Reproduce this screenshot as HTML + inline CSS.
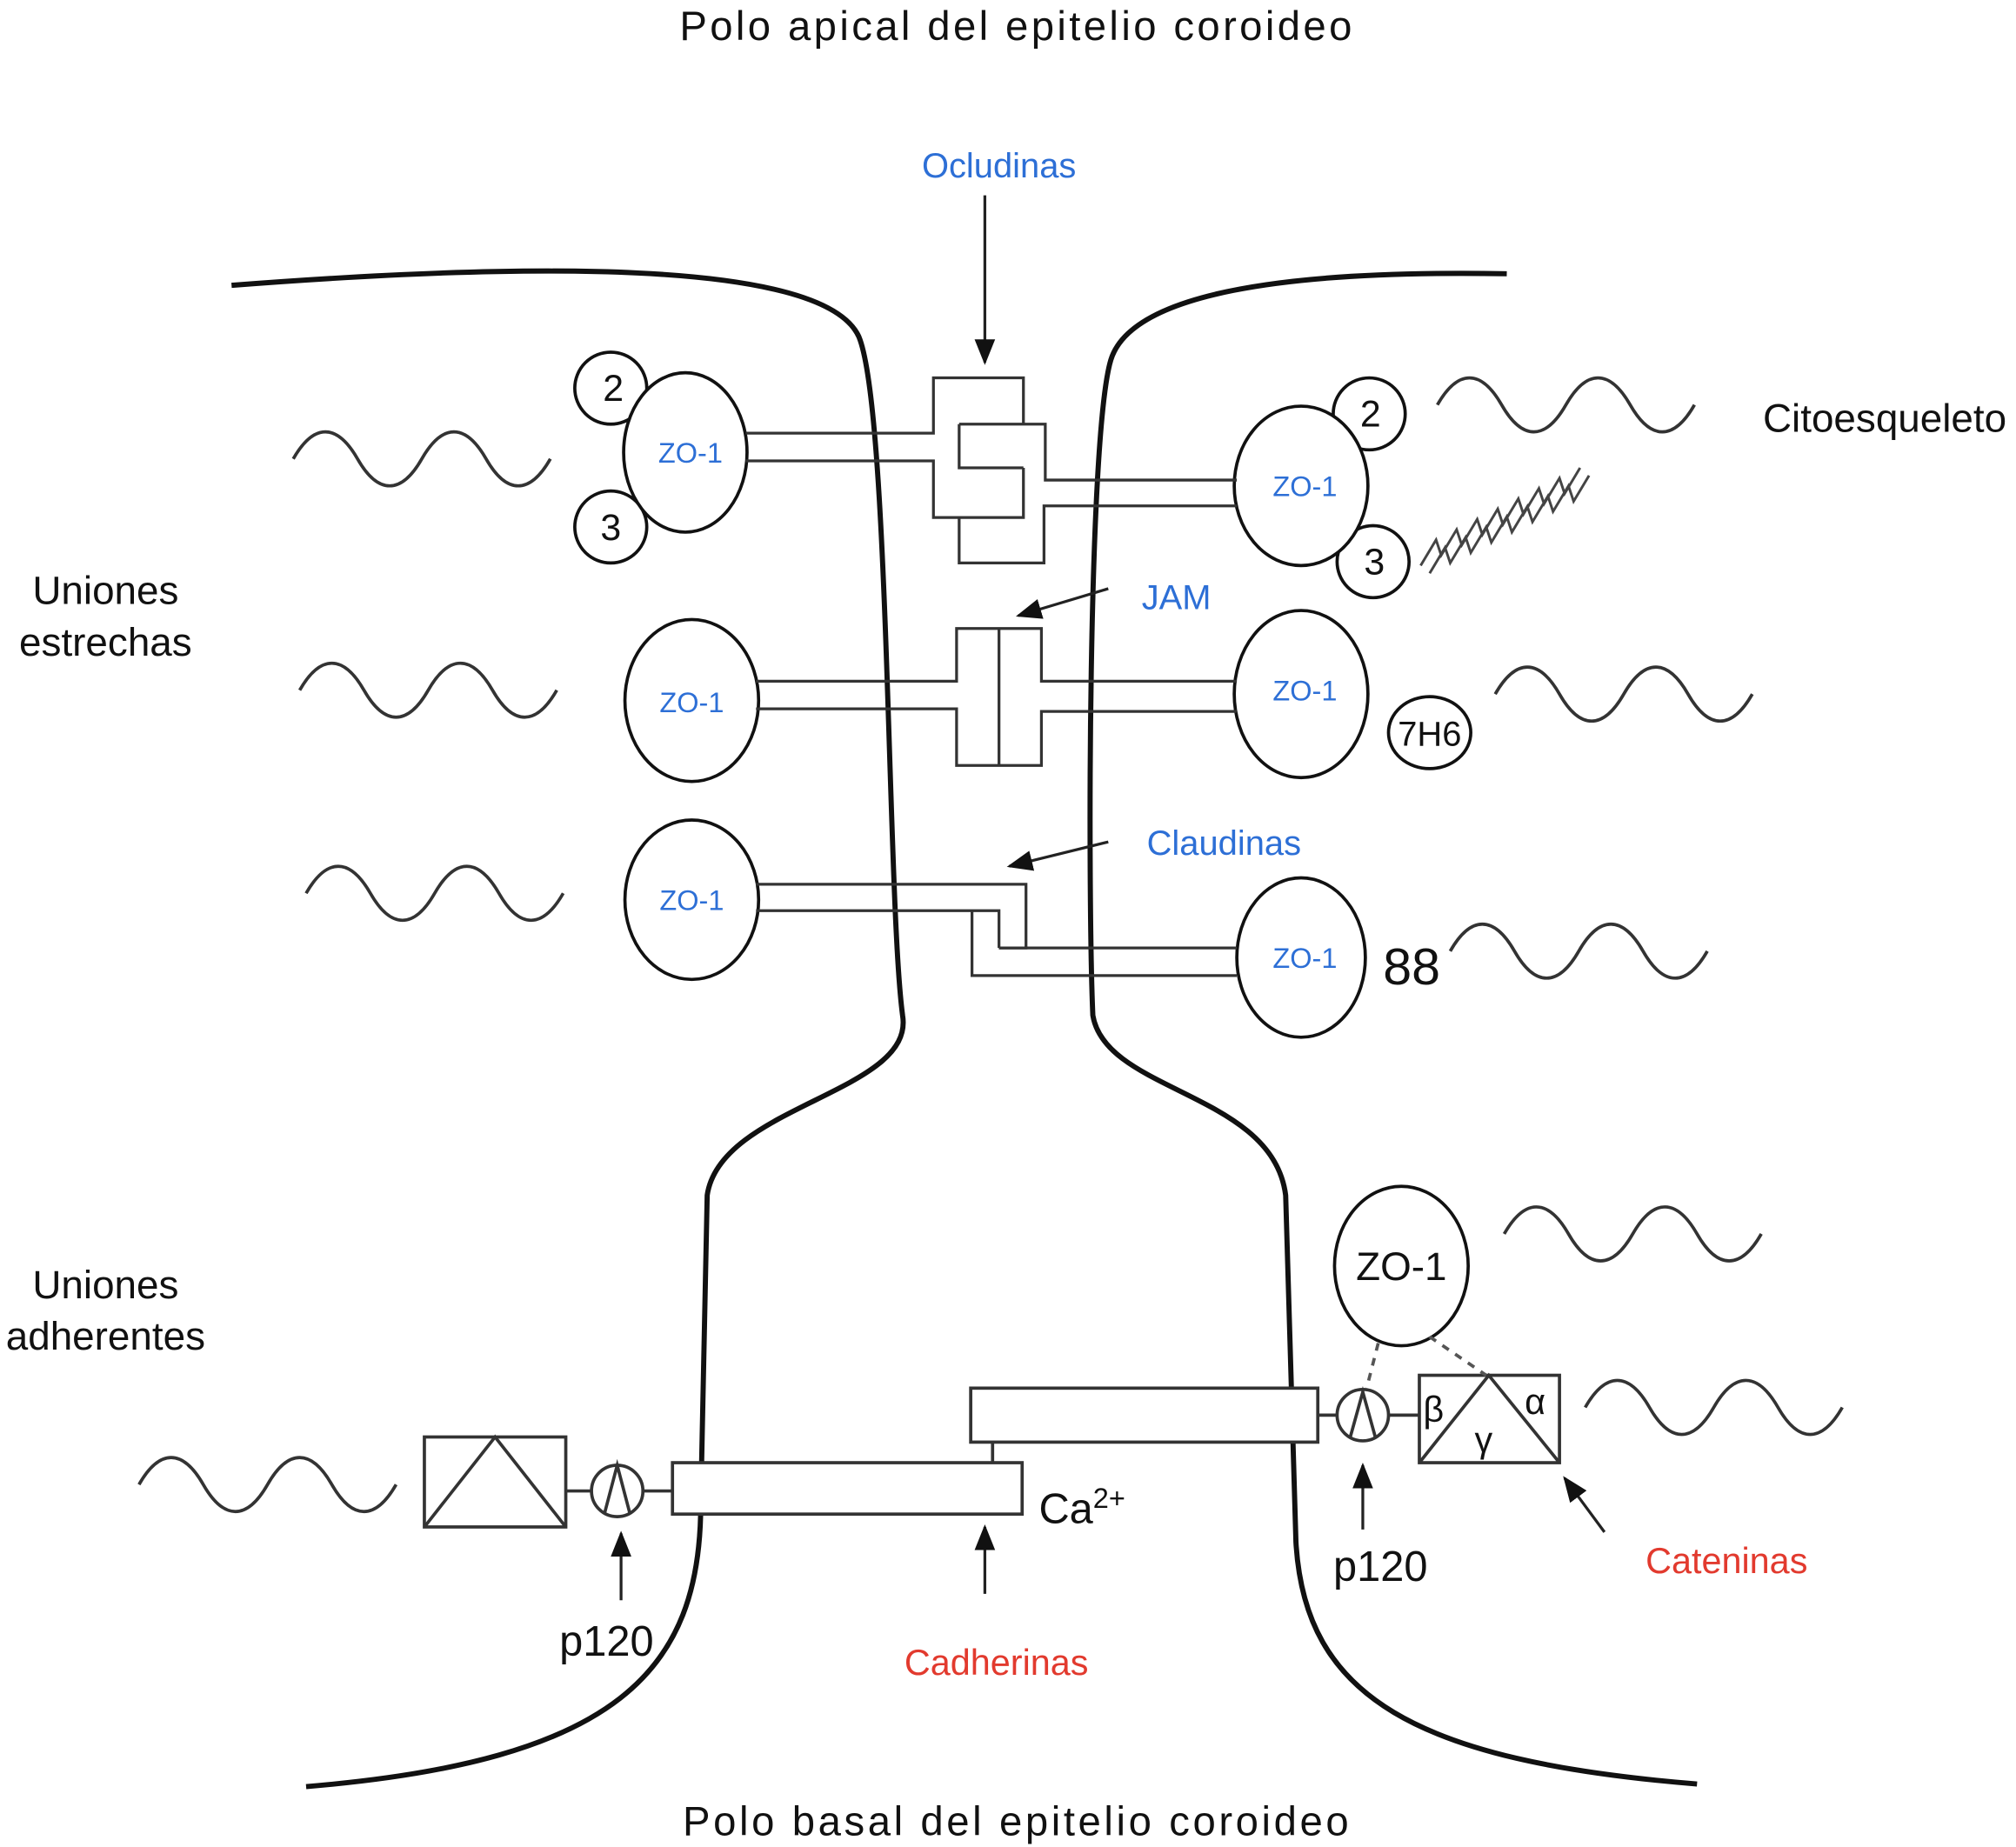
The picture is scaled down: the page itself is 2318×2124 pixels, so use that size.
<!DOCTYPE html>
<html><head><meta charset="utf-8"><style>
html,body{margin:0;padding:0;background:#fff;width:2318px;height:2124px;overflow:hidden}
svg{display:block}
text{font-family:"Liberation Sans",sans-serif}
.b{fill:#2d6fd6}.r{fill:#e23a2e}
</style></head><body>
<svg width="2318" height="2124" viewBox="0 0 1568 1437" xmlns="http://www.w3.org/2000/svg">
<defs>
<marker id="ah2" viewBox="0 0 10 10" refX="9" refY="5" markerWidth="20" markerHeight="20" markerUnits="userSpaceOnUse" orient="auto"><path d="M0,1 L10,5 L0,9 z" fill="#111"/></marker>
<path id="w" d="M0,0 C16,-28 34,-28 50,0 C66,28 84,28 100,0 C116,-28 134,-28 150,0 C166,28 184,28 200,0" fill="none" stroke="#333" stroke-width="2.5"/>
</defs>
<text x="790" y="31" font-size="32" text-anchor="middle" fill="#111" textLength="523">Polo apical del epitelio coroideo</text>
<text x="790" y="1428" font-size="32" text-anchor="middle" fill="#111" textLength="518">Polo basal del epitelio coroideo</text>
<text x="1466" y="336" font-size="31" text-anchor="middle" fill="#111">Citoesqueleto</text>
<text x="82" y="470" font-size="31" text-anchor="middle" fill="#111">Uniones</text>
<text x="82" y="510" font-size="31" text-anchor="middle" fill="#111">estrechas</text>
<text x="82" y="1010" font-size="31" text-anchor="middle" fill="#111">Uniones</text>
<text x="82" y="1050" font-size="31" text-anchor="middle" fill="#111">adherentes</text>

<g fill="none" stroke="#111" stroke-width="4">
<path d="M180,222 C400,205 640,200 668,262 C692,320 690,700 702,790 C712,850 560,860 550,930 L545,1170 C545,1300 480,1370 238,1390"/>
<path d="M1172,213 C1000,210 880,228 864,280 C846,340 846,700 850,790 C860,850 990,850 1000,930 L1008,1200 C1015,1320 1100,1370 1320,1388"/>
</g>

<use href="#w" x="228" y="357"/><use href="#w" x="233" y="537"/><use href="#w" x="238" y="695"/><use href="#w" x="108" y="1155"/>
<use href="#w" x="1118" y="315"/><use href="#w" x="1163" y="540"/><use href="#w" x="1128" y="740"/><use href="#w" x="1170" y="960"/><use href="#w" x="1233" y="1095"/>
<g fill="none" stroke="#444" stroke-width="2">
<path d="M1105,440 l12,-20 l4,12 l12,-20 l4,12 l12,-20 l4,12 l12,-20 l4,12 l12,-20 l4,12 l12,-20 l4,12 l12,-20 l4,12 l12,-20"/>
<path d="M1112,446 l12,-20 l4,12 l12,-20 l4,12 l12,-20 l4,12 l12,-20 l4,12 l12,-20 l4,12 l12,-20 l4,12 l12,-20 l4,12 l12,-20"/>
</g>

<g fill="#fff" stroke="#111" stroke-width="2.5">
<circle cx="475" cy="302" r="28"/><circle cx="475" cy="410" r="28"/>
<ellipse cx="533" cy="352" rx="48" ry="62"/>
<ellipse cx="538" cy="545" rx="52" ry="63"/>
<ellipse cx="538" cy="700" rx="52" ry="62"/>
<circle cx="1065" cy="322" r="28"/><circle cx="1068" cy="437" r="28"/>
<ellipse cx="1012" cy="378" rx="52" ry="62"/>
<ellipse cx="1012" cy="540" rx="52" ry="65"/>
<ellipse cx="1112" cy="570" rx="32" ry="28"/>
<ellipse cx="1012" cy="745" rx="50" ry="62"/>
<ellipse cx="1090" cy="985" rx="52" ry="62"/>
</g>
<g font-size="29" fill="#111" text-anchor="middle">
<text x="477" y="312">2</text><text x="475" y="420">3</text>
<text x="1066" y="332">2</text><text x="1069" y="447">3</text>
<text x="1112" y="580" font-size="27">7H6</text>
<text x="1098" y="766" font-size="40">88</text>
<text x="1090" y="996" font-size="31">ZO-1</text>
</g>
<g font-size="22" text-anchor="middle" class="b">
<text x="537" y="360">ZO-1</text><text x="1015" y="386">ZO-1</text>
<text x="538" y="554">ZO-1</text><text x="1015" y="545">ZO-1</text>
<text x="538" y="708">ZO-1</text><text x="1015" y="753">ZO-1</text>
</g>

<g fill="none" stroke="#333" stroke-width="2.2">
<path d="M580,337 H726 V294 H796 V330"/>
<path d="M746,330 H813 V373.5 H962"/>
<path d="M746,330 V364 H796"/>
<path d="M580,358.6 H726 V402.6 H796 V364"/>
<path d="M746,402.6 V438 H812 V393.6 H962"/>
<path d="M588,530 H744 V489 H810 V530 H962"/>
<path d="M588,551.5 H744 V595.5 H810 V553.5 H962"/>
<path d="M777,489 V595.5"/>
<path d="M588,688 H798 V737.5 H777"/>
<path d="M777,737.5 H962"/>
<path d="M588,708.5 H777 V737.5"/>
<path d="M756,708.5 V759 H962"/>
</g>

<g stroke="#222" stroke-width="2.2" fill="none">
<line x1="766" y1="152" x2="766" y2="282" marker-end="url(#ah2)"/>
<line x1="862" y1="458" x2="792" y2="479" marker-end="url(#ah2)"/>
<line x1="862" y1="655" x2="785" y2="674" marker-end="url(#ah2)"/>
<line x1="483" y1="1245" x2="483" y2="1193" marker-end="url(#ah2)"/>
<line x1="766" y1="1240" x2="766" y2="1188" marker-end="url(#ah2)"/>
<line x1="1060" y1="1190" x2="1060" y2="1140" marker-end="url(#ah2)"/>
<line x1="1248" y1="1192" x2="1217" y2="1150" marker-end="url(#ah2)"/>
</g>
<g font-size="27" class="b" text-anchor="middle">
<text x="777" y="138">Ocludinas</text><text x="915" y="474">JAM</text><text x="952" y="665">Claudinas</text>
</g>
<g font-size="28" class="r" text-anchor="middle">
<text x="775" y="1303">Cadherinas</text><text x="1343" y="1224">Cateninas</text>
</g>
<g font-size="33" fill="#111">
<text x="435" y="1288">p120</text><text x="1037" y="1230">p120</text>
<text x="808" y="1185">Ca<tspan font-size="22" dy="-12">2+</tspan></text>
</g>

<g fill="#fff" stroke="#333" stroke-width="2.5">
<rect x="523" y="1138" width="272" height="40"/>
<rect x="755" y="1080" width="270" height="42"/>
<line x1="772" y1="1122" x2="772" y2="1138"/>
<rect x="330" y="1118" width="110" height="70"/>
<polyline points="330,1188 385,1118 440,1188" fill="none"/>
<line x1="440" y1="1160" x2="460" y2="1160"/>
<line x1="500" y1="1160" x2="523" y2="1160"/>
<circle cx="480" cy="1160" r="20"/>
<polyline points="470,1178 480,1140 490,1178" fill="none"/>
<line x1="1025" y1="1101" x2="1040" y2="1101"/>
<line x1="1080" y1="1101" x2="1104" y2="1101"/>
<circle cx="1060" cy="1101" r="20"/>
<polyline points="1050,1119 1060,1083 1070,1119" fill="none"/>
<rect x="1104" y="1070" width="109" height="68"/>
<polyline points="1104,1138 1158,1070 1213,1138" fill="none"/>
</g>
<g stroke="#555" stroke-width="2.5" stroke-dasharray="6,6">
<line x1="1072" y1="1045" x2="1063" y2="1080"/>
<line x1="1112" y1="1040" x2="1156" y2="1070"/>
</g>
<g font-size="28" fill="#111">
<text x="1107" y="1106" font-family="Liberation Serif,serif">β</text>
<text x="1147" y="1130" font-family="Liberation Serif,serif">γ</text>
<text x="1186" y="1100" font-family="Liberation Serif,serif">α</text>
</g>
</svg>
</body></html>
